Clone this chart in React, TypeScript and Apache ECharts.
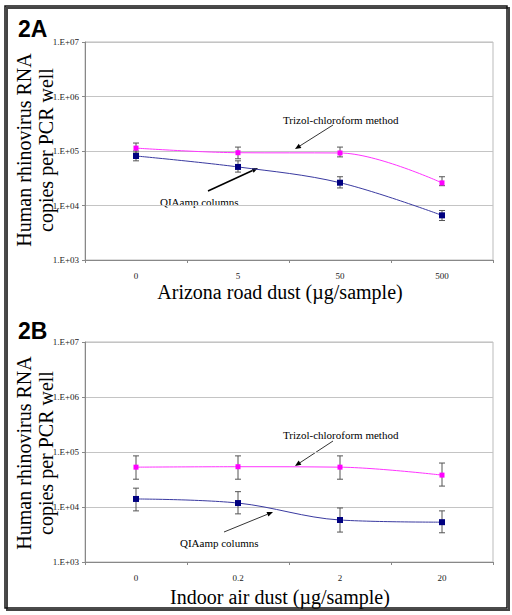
import React, { useEffect, useRef } from "react";
import * as echarts from "echarts";

const catsA = ["0", "5", "50", "500"];
const catsB = ["0", "0.2", "2", "20"];
const yTicks = [1e3, 1e4, 1e5, 1e6, 1e7];

const trizolA = [113000, 93000, 92000, 26000];
const trizolAErr = [[140000, 92000], [118000, 72000], [118000, 78000], [33700, 23100]];
const qiaA = [81000, 51000, 26200, 6600];
const qiaAErr = [[100000, 66000], [66000, 41000], [33700, 21000], [8100, 5300]];

const trizolB = [53000, 54000, 53000, 38000];
const trizolBErr = [[85000, 32000], [85000, 32000], [85000, 32000], [63000, 24000]];
const qiaB = [14000, 11800, 5800, 5300];
const qiaBErr = [[22000, 8500], [19000, 7500], [9600, 3500], [8500, 3400]];

const SERIF = "Liberation Serif";

function errSeries(data: number[][], axisIdx: number) {
  return {
    type: "custom",
    xAxisIndex: axisIdx,
    yAxisIndex: axisIdx,
    z: 1,
    data: data.map((d, i) => [i, d[0], d[1]]),
    renderItem: (params: any, api: any) => {
      const x = api.value(0);
      const hi = api.coord([x, api.value(1)]);
      const lo = api.coord([x, api.value(2)]);
      const w = 3;
      const st = { stroke: "#555", lineWidth: 1 };
      return {
        type: "group",
        children: [
          { type: "line", shape: { x1: hi[0], y1: hi[1], x2: lo[0], y2: lo[1] }, style: st },
          { type: "line", shape: { x1: hi[0] - w, y1: hi[1], x2: hi[0] + w, y2: hi[1] }, style: st },
          { type: "line", shape: { x1: lo[0] - w, y1: lo[1], x2: lo[0] + w, y2: lo[1] }, style: st },
        ],
      };
    },
  };
}

function arrow(x1: number, y1: number, x2: number, y2: number, lw: number) {
  const ang = Math.atan2(y2 - y1, x2 - x1);
  const len = 6, half = 2.5;
  const bx = x2 - len * Math.cos(ang), by = y2 - len * Math.sin(ang);
  const px = -Math.sin(ang) * half, py = Math.cos(ang) * half;
  return [
    { type: "line", shape: { x1, y1, x2: bx, y2: by }, style: { stroke: "#000", lineWidth: lw } },
    {
      type: "polygon",
      shape: { points: [[x2, y2], [bx + px, by + py], [bx - px, by - py]] },
      style: { fill: "#000" },
    },
  ];
}

function axisPair(cats: string[], gridIndex: number) {
  return {
    x: {
      type: "category",
      gridIndex,
      data: cats,
      boundaryGap: true,
      axisLine: { lineStyle: { color: "#888", width: 1 } },
      axisTick: { show: true, length: 3, lineStyle: { color: "#888" } },
      axisLabel: { fontFamily: SERIF, fontSize: 9, color: "#222", margin: 11 },
    },
    y: {
      type: "log",
      gridIndex,
      logBase: 10,
      min: 1e3,
      max: 1e7,
      axisLine: { show: true, lineStyle: { color: "#888", width: 1 } },
      axisTick: { show: true, length: 3, lineStyle: { color: "#888" } },
      splitLine: { show: true, lineStyle: { color: "#c4c4c4", width: 1 } },
      axisLabel: {
        fontFamily: SERIF,
        fontSize: 9,
        color: "#222",
        margin: 6,
        formatter: (v: number) => {
          const e = Math.round(Math.log10(v));
          if (!yTicks.includes(Math.pow(10, e))) return "";
          return "1.E+" + String(e).padStart(2, "0");
        },
      },
    },
  };
}

export default function App() {
  const ref = useRef<HTMLDivElement>(null);
  useEffect(() => {
    document.body.style.margin = "0";
    const chart = echarts.init(ref.current!, undefined, { renderer: "svg" });
    const a = axisPair(catsA, 0);
    const b = axisPair(catsB, 1);
    const lineSeries = (data: number[], idx: number, color: string, lineColor: string, size: number) => ({
      type: "line",
      xAxisIndex: idx,
      yAxisIndex: idx,
      data,
      smooth: 0.35,
      symbol: "rect",
      symbolSize: size,
      z: 3,
      itemStyle: { color },
      lineStyle: { color: lineColor, width: 1 },
    });
    const titleText = (x: number, y: number, text: string) => ({
      type: "text",
      x,
      y,
      rotation: Math.PI / 2,
      style: { text, fontFamily: SERIF, fontSize: 20, fill: "#000", align: "center", verticalAlign: "middle" },
    });
    const label = (x: number, y: number, text: string, size = 11) => ({
      type: "text",
      x,
      y,
      style: { text, fontFamily: SERIF, fontSize: size, fill: "#000", align: "left", verticalAlign: "middle" },
    });
    chart.setOption({
      animation: false,
      backgroundColor: "#fff",
      grid: [
        { left: 85, top: 42, width: 408, height: 218, show: true, borderColor: "#bbb", borderWidth: 1 },
        { left: 85, top: 342, width: 408, height: 220, show: true, borderColor: "#bbb", borderWidth: 1 },
      ],
      xAxis: [a.x, b.x],
      yAxis: [a.y, b.y],
      series: [
        errSeries(trizolAErr, 0),
        errSeries(qiaAErr, 0),
        errSeries(trizolBErr, 1),
        errSeries(qiaBErr, 1),
        lineSeries(trizolA, 0, "#ff00ff", "#ff33ff", 5),
        lineSeries(qiaA, 0, "#000080", "#3a3aa0", 6),
        lineSeries(trizolB, 1, "#ff00ff", "#ff33ff", 5),
        lineSeries(qiaB, 1, "#000080", "#3a3aa0", 6),
      ],
      graphic: [
        { type: "rect", shape: { x: 7, y: 8, width: 502, height: 602 }, style: { fill: "none", stroke: "#444", lineWidth: 2 }, z: 0 },
        { type: "rect", shape: { x: 5, y: 6, width: 502, height: 602 }, style: { fill: "none", stroke: "#111", lineWidth: 1.5 }, z: 1 },
        { type: "text", x: 18, y: 29, style: { text: "2A", fontFamily: "Liberation Sans", fontWeight: "bold", fontSize: 23, fill: "#000", verticalAlign: "middle" } },
        { type: "text", x: 18, y: 331, style: { text: "2B", fontFamily: "Liberation Sans", fontWeight: "bold", fontSize: 23, fill: "#000", verticalAlign: "middle" } },
        titleText(24, 150, "Human rhinovirus RNA"),
        titleText(46, 150, "copies per PCR well"),
        titleText(24, 453, "Human rhinovirus RNA"),
        titleText(46, 453, "copies per PCR well"),
        { type: "text", x: 280, y: 292, style: { text: "Arizona road dust (µg/sample)", fontFamily: SERIF, fontSize: 20, fill: "#000", align: "center", verticalAlign: "middle" } },
        { type: "text", x: 280, y: 597, style: { text: "Indoor air dust (µg/sample)", fontFamily: SERIF, fontSize: 20, fill: "#000", align: "center", verticalAlign: "middle" } },
        label(283, 120, "Trizol-chloroform method"),
        label(160, 202, "QIAamp columns"),
        label(283, 435, "Trizol-chloroform method"),
        label(180, 543, "QIAamp columns"),
        ...arrow(333, 125, 295, 149, 0.8),
        ...arrow(208, 191, 258, 168, 1.5),
        ...arrow(333, 441, 295, 466, 0.8),
        ...arrow(224, 532, 273, 512, 0.8),
      ],
    });
    return () => chart.dispose();
  }, []);
  return <div ref={ref} style={{ width: 512, height: 615 }} />;
}
